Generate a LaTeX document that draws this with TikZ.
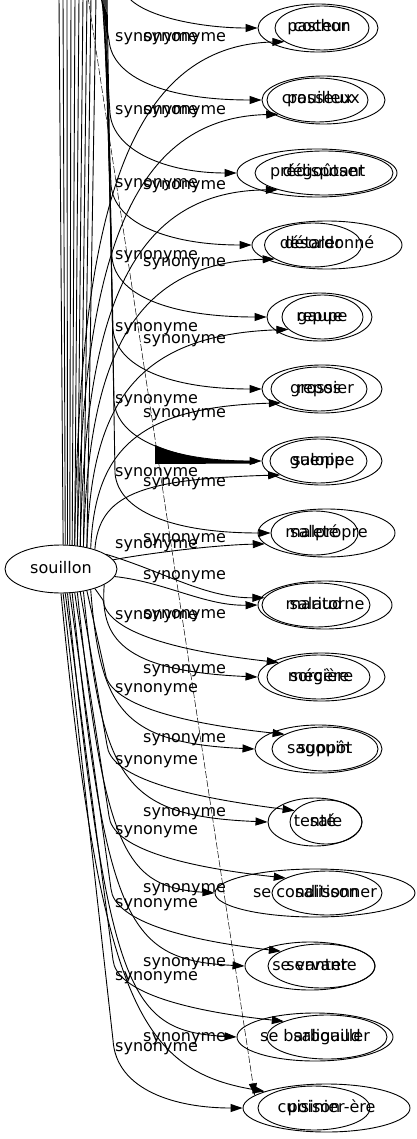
\documentclass[tikz,border=0pt]{standalone}
\usepackage{fontspec}
\setmainfont{DejaVu Sans}
\usetikzlibrary{arrows.meta,shapes.geometric}
\begin{document}
\begin{tikzpicture}[x=1pt,y=-1pt,
  every node/.style={font=\fontsize{16}{19}\selectfont},
  lbl/.style={anchor=base west, inner sep=0pt},
  outerw/.style={ellipse, draw, line width=0.9pt, inner sep=0pt, minimum height=48pt, text height=11.5pt, text depth=3.5pt},
  innerw/.style={outerw, minimum height=44pt},
  syn/.style={line width=0.9pt, -{Triangle[length=12pt,width=8pt]}},
  bare/.style={line width=0.9pt}]
\useasboundingbox (0,0) rectangle (416,1139);
\clip (0,0) rectangle (416,1139);

\node[outerw, minimum width=112pt] (s) at (61,569) {souillon};

\node[outerw, minimum width=120pt] (o1) at (318,28) {pasteur};
\node[innerw, minimum width=94pt] (i1) at (322,28) {cochon};
\node[outerw, minimum width=123pt] (o2) at (323.5,100) {pouilleux};
\node[innerw, minimum width=101pt] (i2) at (317.5,100) {crasseux};
\node[outerw, minimum width=160pt] (o3) at (317,173) {prédisposer};
\node[innerw, minimum width=138pt] (i3) at (324,173) {dégoûtant};
\node[outerw, minimum width=150pt] (o4) at (327,245) {désordonné};
\node[innerw, minimum width=97pt] (i4) at (313,245) {détaler};
\node[outerw, minimum width=105pt] (o5) at (319.5,317) {repue};
\node[innerw, minimum width=81pt] (i5) at (322.5,317) {gaupe};
\node[outerw, minimum width=120pt] (o6) at (322,389) {grossier};
\node[innerw, minimum width=96pt] (i6) at (319,389) {repos};
\node[outerw, minimum width=120pt] (o7) at (322,461) {guenipe};
\node[innerw, minimum width=97pt] (i7) at (318.5,461) {salope};
\node[outerw, minimum width=137pt] (o8) at (326.5,533) {malpropre};
\node[innerw, minimum width=87pt] (i8) at (314.5,533) {saleté};
\node[outerw, minimum width=134pt] (o9) at (325,605) {maritorne};
\node[innerw, minimum width=108pt] (i9) at (316,605) {salaud};
\node[outerw, minimum width=127pt] (o10) at (321.5,677) {sorcière};
\node[innerw, minimum width=103pt] (i10) at (318.5,677) {mégère};
\node[outerw, minimum width=127pt] (o11) at (318.5,749) {sagouin};
\node[innerw, minimum width=106pt] (i11) at (325,749) {suppôt};
\node[outerw, minimum width=94pt] (o12) at (315,822) {tenté};
\node[innerw, minimum width=72pt] (i12) at (326,822) {sale};
\node[outerw, minimum width=200pt] (o13) at (315,893) {se conditionner};
\node[innerw, minimum width=110pt] (i13) at (327,893) {salisson};
\node[outerw, minimum width=130pt] (o14) at (310,966) {se vanter};
\node[innerw, minimum width=107pt] (i14) at (321.5,966) {servante};
\node[outerw, minimum width=156pt] (o15) at (315,1037) {se barbouiller};
\node[innerw, minimum width=120pt] (i15) at (327,1037) {saligaud};
\node[outerw, minimum width=167pt] (o16) at (326.5,1108) {cuisinier-ère};
\node[innerw, minimum width=112pt] (i16) at (314,1108) {poison};

% edge labels
\foreach \y [count=\i] in {37,110,183,255,327,399,472,544,615,688,760,830,903,976,1047}
  \node[lbl] (la\i) at (115,\y+4.5) {synonyme};
\foreach \y [count=\i] in {37,110,185,262,339,413,482,538,575,614,669,738,812,888,962,1037}
  \node[lbl] (lb\i) at (143,\y+4.5) {synonyme};

% bundle of edges leaving the picture at the top
\foreach \a/\x [count=\i] in {85/59,80/63,75/67,70/71,65/75,60/79,55/83,50/87,45/91,40/96}{
  \coordinate (t\i) at (\x,-3);
  \draw[bare] (s.\a) -- (t\i);
}

% upper rows: curves coming down into the outer ellipses
\coordinate (ua1) at (128,-3);
\coordinate (ua2) at (101,-3);
\coordinate (ua3) at (102,-3);
\coordinate (ua4) at (103,-3);
\coordinate (ua5) at (104,-3);
\coordinate (ua6) at (105,-3);
\coordinate (ua7) at (106,-3);
\coordinate (ua8) at (107,-3);
\draw[syn] (ua1) .. controls (146,18) and (205,28) .. (o1.west);
\draw[syn] (ua2) -- (109,40) .. controls (112,78) and (166,100) .. (o2.west);
\draw[syn] (ua3) -- (110,113) .. controls (113,151) and (167,173) .. (o3.west);
\draw[syn] (ua4) -- (111,185) .. controls (114,223) and (168,245) .. (o4.west);
\draw[syn] (ua5) -- (112,257) .. controls (115,295) and (169,317) .. (o5.west);
\draw[syn] (ua6) -- (113,329) .. controls (116,367) and (170,389) .. (o6.west);
\draw[syn] (ua7) -- (114,401) .. controls (117,439) and (171,461) .. (o7.west);
\fill (155,445) .. controls (185,458) and (215,461) .. (255,461) -- (255,463.5) -- (155,464) -- cycle;
\draw[syn] (ua8) -- (115,473) .. controls (118,511) and (172,533) .. (i8.west);

% upper rows: curves rising from souillon into the inner ellipses
\draw[syn] (s.60) .. controls (79,235) and (119,46) .. (i1.200);
\draw[syn] (s.55) .. controls (82,278) and (122,118) .. (i2.200);
\draw[syn] (s.50) .. controls (85,322) and (125,191) .. (i3.200);
\draw[syn] (s.45) .. controls (88,365) and (128,263) .. (i4.200);
\draw[syn] (s.40) .. controls (91,409) and (131,335) .. (i5.200);
\draw[syn] (s.35) .. controls (95,452) and (135,407) .. (i6.200);
\draw[syn] (s.30) .. controls (99,495) and (139,479) .. (i7.200);
\draw[syn] (s.10) .. controls (150,553) and (215,545) .. (o8.190);

% row 9
\draw[syn] (s.18) .. controls (165,572) and (205,598) .. (i9.172);
\draw[syn] (s.-8) .. controls (165,582) and (205,606) .. (o9.west);

% lower rows: curves into the inner ellipses
\draw[syn] (s.-30) -- (103,600) .. controls (106,630) and (168,650) .. (i10.160);
\draw[syn] (s.-40) -- (105,672) .. controls (108,702) and (170,722) .. (i11.160);
\draw[syn] (s.-50) -- (107,745) .. controls (110,775) and (172,795) .. (i12.160);
\draw[syn] (s.-60) -- (109,816) .. controls (112,846) and (174,866) .. (i13.160);
\draw[syn] (s.-70) -- (111,889) .. controls (114,919) and (176,939) .. (i14.160);
\draw[syn] (s.-80) -- (113,960) .. controls (116,990) and (178,1010) .. (i15.160);
\draw[syn] (s.-85) -- (113,1040) .. controls (116,1090) and (175,1108) .. (o16.west);

% lower rows: curves into the outer ellipses
\draw[syn] (s.-20) .. controls (100,637) and (120,671) .. (o10.west);
\draw[syn] (s.-35) .. controls (100,709) and (122,743) .. (o11.west);
\draw[syn] (s.-45) .. controls (102,782) and (124,816) .. (o12.west);
\draw[syn] (s.-55) .. controls (104,853) and (126,887) .. (o13.west);
\draw[syn] (s.-65) .. controls (106,926) and (128,960) .. (o14.west);
\draw[syn] (s.-75) .. controls (108,997) and (130,1031) .. (o15.west);
\draw[syn] (s.-90) .. controls (100,1000) and (140,1070) .. (o16.165);

% long thin edge from the top
\coordinate (td) at (88,-3);
\draw[syn, line width=0.5pt, dash pattern=on 7pt off 2pt] (td) -- (o16.170);
\end{tikzpicture}
\end{document}
